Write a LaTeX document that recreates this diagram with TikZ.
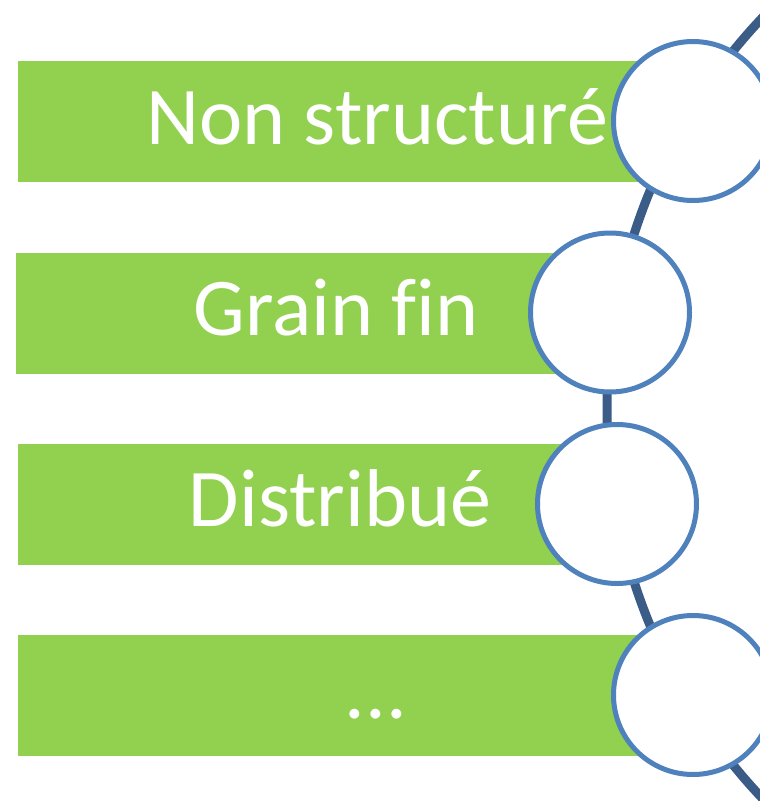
\documentclass[tikz,border=0pt]{standalone}
\usepackage{fontspec}
\setmainfont{Carlito}[Ligatures=NoCommon]
\definecolor{boxgreen}{HTML}{92D050}
\definecolor{ringblue}{HTML}{4F81BD}
\definecolor{arcblue}{HTML}{3A5C87}
\begin{document}
\begin{tikzpicture}[x=1pt,y=-1pt,
  greenbox/.style={fill=boxgreen, draw=none, minimum height=121pt, inner sep=0pt,
    text=white, font=\fontsize{82}{92}\selectfont, text height=52pt, text depth=7pt},
  ring/.style={circle, draw=ringblue, line width=5pt, fill=white, minimum size=159pt, inner sep=0pt},
  arcline/.style={draw=arcblue, line width=9pt}]
\useasboundingbox (0,0) rectangle (760,801);
\node[greenbox, minimum width=718pt] (b1) at (377,121.5) {Non structuré};
\node[greenbox, minimum width=640pt] (b2) at (336,313) {Grain fin};
\node[greenbox, minimum width=644pt] (b3) at (340,504) {Distribué};
\node[greenbox, minimum width=716pt] (b4) at (376,695.5) {...};
\begin{scope}
\clip (0,0) rectangle (760,801);
\coordinate (arccenter) at (1175,408);
\draw[arcline] (arccenter) circle[radius=568pt];
\end{scope}
\node[ring] (c1) at (693,121) {};
\node[ring] (c2) at (610,312.5) {};
\node[ring] (c3) at (617,504) {};
\node[ring] (c4) at (693,695) {};
\end{tikzpicture}
\end{document}
